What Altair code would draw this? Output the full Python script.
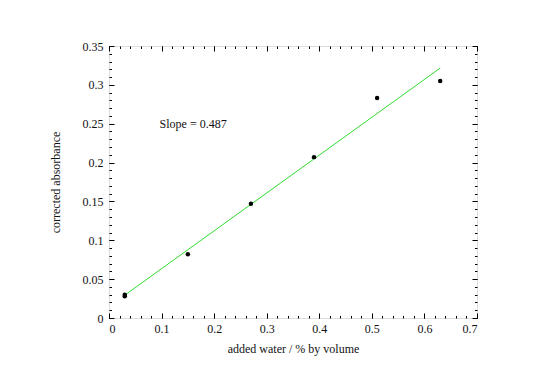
import altair as alt
import pandas as pd

# Measured data
x_pts = [0.03, 0.03, 0.15, 0.27, 0.39, 0.51, 0.63]
y_pts = [0.030, 0.028, 0.082, 0.147, 0.207, 0.283, 0.305]

# Fitted line end points (slope 0.487)
x_fit = [0.03, 0.63]
y_fit = [0.0294, 0.3216]

annot_x = [0.16]
annot_y = [0.25]
annot_text = ["Slope = 0.487"]

x_major = [0, 0.1, 0.2, 0.3, 0.4, 0.5, 0.6, 0.7]
y_major = [0, 0.05, 0.1, 0.15, 0.2, 0.25, 0.3, 0.35]
x_minor = [round(i * 0.02, 2) for i in range(36)]
y_minor = [round(i * 0.01, 2) for i in range(36)]

W, H = 368, 272
FONT = "Liberation Serif"

pts = pd.DataFrame({"x": x_pts, "y": y_pts})
fit = pd.DataFrame({"x": x_fit, "y": y_fit})
ann = pd.DataFrame({"x": annot_x, "y": annot_y, "t": annot_text})


def xs():
    return alt.Scale(domain=[0, 0.7], nice=False, zero=False)


def ys():
    return alt.Scale(domain=[0, 0.35], nice=False, zero=False)


main = alt.Chart(pts).mark_circle(size=20, color="black", opacity=1).encode(
    x=alt.X("x:Q", scale=xs(), axis=alt.Axis(
        orient="bottom", values=x_major, format="~g", tickSize=0, domain=False,
        grid=False, labelPadding=5, title="added water / % by volume",
        titlePadding=9, labelFont=FONT, titleFont=FONT, labelFontSize=12,
        titleFontSize=12, titleFontWeight="normal", labelColor="#111",
        titleColor="#111")),
    y=alt.Y("y:Q", scale=ys(), axis=alt.Axis(
        orient="left", values=y_major, format="~g", tickSize=0, domain=False,
        grid=False, labelPadding=6, title="corrected absorbance",
        titlePadding=20, labelFont=FONT, titleFont=FONT, labelFontSize=12,
        titleFontSize=12, titleFontWeight="normal", labelColor="#111",
        titleColor="#111")),
)

line = alt.Chart(fit).mark_line(color="#2edc2e", strokeWidth=1).encode(
    x=alt.X("x:Q", scale=xs(), axis=None),
    y=alt.Y("y:Q", scale=ys(), axis=None),
)

text = alt.Chart(ann).mark_text(font=FONT, fontSize=12, color="#111", align="center").encode(
    x=alt.X("x:Q", scale=xs(), axis=None),
    y=alt.Y("y:Q", scale=ys(), axis=None),
    text="t:N",
)


def tick_layer(xorient, yorient, xvals, yvals, size):
    return alt.Chart(pts).mark_point(opacity=0).encode(
        x=alt.X("x:Q", scale=xs(), axis=alt.Axis(
            orient=xorient, offset=-H, values=xvals, labels=False, title=None,
            domain=False, grid=False, tickSize=size, tickColor="black")),
        y=alt.Y("y:Q", scale=ys(), axis=alt.Axis(
            orient=yorient, offset=-W, values=yvals, labels=False, title=None,
            domain=False, grid=False, tickSize=size, tickColor="black")),
    )


layers = [
    tick_layer("top", "right", x_major, y_major, 5),
    tick_layer("bottom", "left", x_major, y_major, 5),
    tick_layer("top", "right", x_minor, y_minor, 2.5),
    tick_layer("bottom", "left", x_minor, y_minor, 2.5),
    line, main, text,
]

chart = alt.layer(*layers).resolve_scale(x="independent", y="independent").properties(
    width=W, height=H, autosize="none",
    padding={"left": 101, "top": 38, "right": 55, "bottom": 56},
).configure_view(stroke="black", strokeWidth=1).configure(background="white")

chart.save("out.html", embed_options={"renderer": "svg", "actions": False})
